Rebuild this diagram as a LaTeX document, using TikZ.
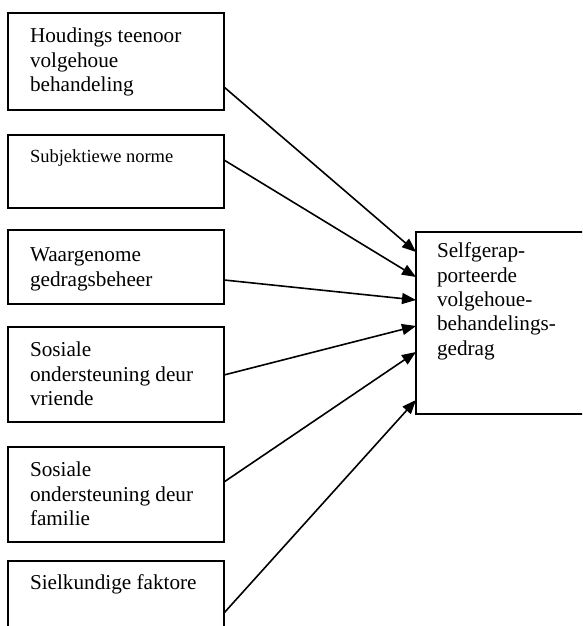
\documentclass[tikz,border=0pt]{standalone}
\usepackage{fontspec}
\setmainfont{Liberation Serif}
\usetikzlibrary{arrows.meta,calc}
\tikzset{
  box/.style={draw=black, line width=1.5pt, rectangle, inner sep=0pt, outer sep=0pt},
  lbl/.style={anchor=base west, inner sep=0pt, outer sep=0pt, font=\fontsize{21.2}{24.3}\selectfont},
  lblsmall/.style={anchor=base west, inner sep=0pt, outer sep=0pt, font=\fontsize{18.5}{22}\selectfont},
  conn/.style={draw=black, line width=1.6pt, -{Triangle[length=14pt,width=11pt]}}
}
\newcommand{\mylines}[1]{\begin{tabular}[t]{@{}l@{}}#1\end{tabular}}
\begin{document}
\begin{tikzpicture}[x=1pt,y=1pt]
\useasboundingbox (0,0) rectangle (582,626);
\clip (0,0) rectangle (582,626);
% left boxes
\node[box, minimum width=216pt, minimum height=97pt] (b1) at (116,564.5) {};
\node[box, minimum width=216pt, minimum height=73pt] (b2) at (116,454.5) {};
\node[box, minimum width=216pt, minimum height=74pt] (b3) at (116,359) {};
\node[box, minimum width=216pt, minimum height=95pt] (b4) at (116,251.5) {};
\node[box, minimum width=216pt, minimum height=95pt] (b5) at (116,131.5) {};
\node[box, minimum width=216pt, minimum height=80pt] (b6) at (116,25) {};
% right box
\node[box, minimum width=184pt, minimum height=182pt] (r) at (508,303) {};
% texts
\node[lbl] (t1) at (30,583) {\mylines{Houdings teenoor\\volgehoue\\behandeling}};
\node[lblsmall] (t2) at (30,463) {Subjektiewe norme};
\node[lbl] (t3) at (30,364) {\mylines{Waargenome\\gedragsbeheer}};
\node[lbl] (t4) at (30,269) {\mylines{Sosiale\\ondersteuning deur\\vriende}};
\node[lbl] (t5) at (30,149) {\mylines{Sosiale\\ondersteuning deur\\familie}};
\node[lbl] (t6) at (30,36) {Sielkundige faktore};
\node[lbl] (tr) at (437,368) {\mylines{Selfgerap-\\porteerde\\volgehoue-\\behandelings-\\gedrag}};
% connectors
\draw[conn] ($(b1.north east)+(0,-74)$) -- ($(r.north west)+(0,-20)$);
\draw[conn] ($(b2.north east)+(0,-25)$) -- ($(r.north west)+(0,-45)$);
\draw[conn] ($(b3.north east)+(0,-50)$) -- ($(r.north west)+(0,-68)$);
\draw[conn] ($(b4.north east)+(0,-48)$) -- ($(r.north west)+(0,-94)$);
\draw[conn] ($(b5.north east)+(0,-35)$) -- ($(r.north west)+(0,-120)$);
\draw[conn] ($(b6.north east)+(0,-52)$) -- ($(r.north west)+(0,-168)$);
\end{tikzpicture}
\end{document}
